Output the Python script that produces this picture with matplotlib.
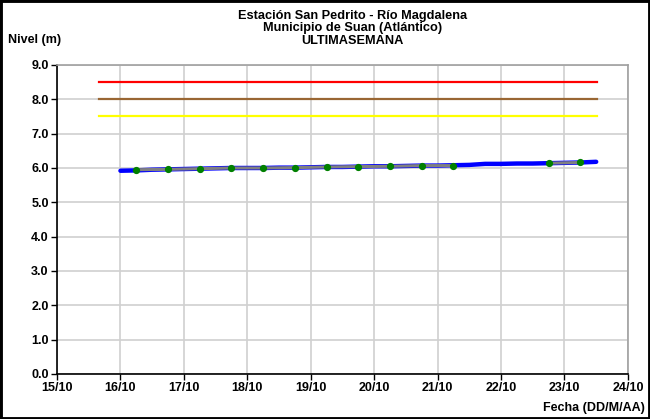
import numpy as np
import matplotlib
matplotlib.use("Agg")
from matplotlib import pyplot as plt
from matplotlib.patches import Rectangle

plt.rcParams['font.family'] = ['Liberation Sans', 'DejaVu Sans']
plt.rcParams['font.weight'] = 'bold'

# niveles de alerta (m)
alert_levels = [8.5, 8.0, 7.5]
alert_colors = ['#ff0000', '#996633', '#ffff00']
alert_span = [15.66, 23.52]

# nivel registrado (dia del mes, cada 6 horas)
level_days = [16.0, 16.25, 16.5, 16.75, 17.0, 17.25, 17.5, 17.75, 18.0, 18.25,
              18.5, 18.75, 19.0, 19.25, 19.5, 19.75, 20.0, 20.25, 20.5, 20.75,
              21.0, 21.25, 21.5, 21.75, 22.0, 22.25, 22.5, 22.75, 23.0, 23.25, 23.5]
level_vals = [5.92, 5.93, 5.95, 5.96, 5.97, 5.98, 5.99, 6.0, 6.0, 6.0,
              6.01, 6.01, 6.02, 6.03, 6.03, 6.04, 6.05, 6.05, 6.06, 6.07,
              6.07, 6.08, 6.09, 6.12, 6.12, 6.13, 6.13, 6.14, 6.15, 6.16, 6.18]

# lecturas de mira (cada 12 horas, faltan dos)
obs_days = [16.25, 16.75, 17.25, 17.75, 18.25, 18.75, 19.25, 19.75, 20.25, 20.75,
            21.25, 21.75, 22.25, 22.75, 23.25]
obs_vals = [5.95, 5.96, 5.98, 6.0, 6.0, 6.01, 6.03, 6.04, 6.05, 6.07,
            6.07, np.nan, np.nan, 6.14, 6.16]

day_ticks = list(range(15, 25))
day_labels = ['%d/10' % d for d in day_ticks]

fig = plt.figure(figsize=(6.5, 4.19), dpi=100)
ax = fig.add_axes([0.0877, 0.1074, 0.8783, 0.7375])

for lev, col in zip(alert_levels, alert_colors):
    ax.plot(alert_span, [lev, lev], color=col, lw=1.6, zorder=3)

ax.plot(level_days, level_vals, color='#0000ff', lw=3.2, solid_capstyle='round', zorder=4)
ax.plot(obs_days, obs_vals, color='#808080', lw=2.2, zorder=5)
ax.plot(obs_days, obs_vals, ls='none', marker='o', ms=4.2, color='#008000', zorder=6)

ax.set_xlim(15, 24)
ax.set_ylim(0, 9)
ax.set_xticks(day_ticks)
ax.set_xticklabels(day_labels)
ax.set_yticks(np.arange(0, 9.5, 1.0))
ax.set_yticklabels(['%.1f' % v for v in np.arange(0, 9.5, 1.0)])
ax.tick_params(labelsize=9, length=4, width=1, direction='out', pad=2)
ax.grid(True, color='#d0d0d0', lw=1.2)
ax.set_axisbelow(True)

for s in ['top', 'right']:
    ax.spines[s].set_color('#a0a0a0')
    ax.spines[s].set_linewidth(1.2)
for s in ['left', 'bottom']:
    ax.spines[s].set_color('black')
    ax.spines[s].set_linewidth(1.2)

fig.text(0.542, 0.977, 'Estación San Pedrito - Río Magdalena\nMunicipio de Suan (Atlántico)\nULTIMASEMANA',
         ha='center', va='top', fontsize=9.2, fontweight='bold', linespacing=1.08)
fig.text(0.013, 0.905, 'Nivel (m)', ha='left', va='center', fontsize=9, fontweight='bold')
fig.text(0.992, 0.027, 'Fecha (DD/M/AA)', ha='right', va='center', fontsize=9, fontweight='bold')

fig.patches.append(Rectangle((0, 0), 1, 1, transform=fig.transFigure, fill=False,
                             edgecolor='black', lw=3.5, zorder=10))

fig.savefig('out.png', dpi=100)
